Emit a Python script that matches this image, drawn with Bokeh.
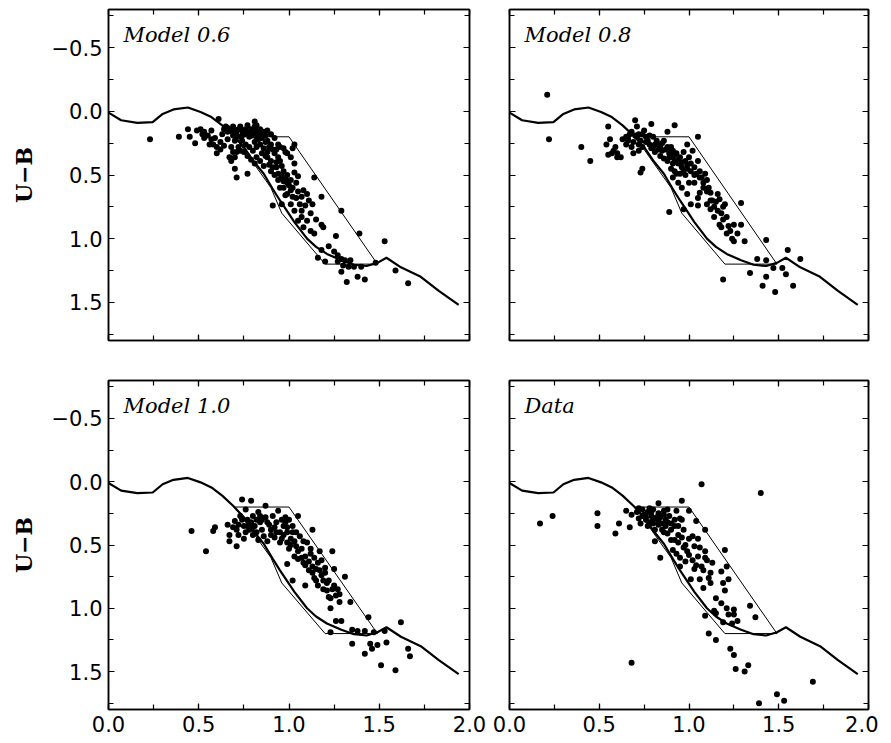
from bokeh.plotting import figure
from bokeh.models import Range1d, LinearAxis, SingleIntervalTicker, Label
from bokeh.layouts import column, row
from bokeh.embed import file_html
from bokeh.resources import INLINE

# ---------------- data ----------------
CURVE_X = [0.0, 0.07, 0.16, 0.245, 0.30, 0.36, 0.44, 0.51, 0.57, 0.63, 0.69, 0.75, 0.80, 0.86,
           0.91, 0.95, 1.03, 1.10, 1.15, 1.21, 1.29, 1.36, 1.43, 1.49, 1.54, 1.62, 1.73, 1.83, 1.94]
CURVE_Y = [0.01, 0.07, 0.09, 0.085, 0.02, -0.015, -0.03, 0.005, 0.045, 0.11, 0.19, 0.28, 0.385, 0.49,
           0.61, 0.70, 0.87, 1.0, 1.065, 1.12, 1.17, 1.205, 1.215, 1.19, 1.15, 1.225, 1.30, 1.41, 1.52]

BOX_X = [0.70, 1.00, 1.49, 1.20, 0.96, 0.90, 0.70]
BOX_Y = [0.20, 0.20, 1.20, 1.20, 0.80, 0.60, 0.20]

TITLES = ["Model 0.6", "Model 0.8", "Model 1.0", "Data"]
Y_LABEL = "U\u2212B"
X_TICKS = [0.0, 0.5, 1.0, 1.5, 2.0]
X_TICK_LABELS = ["0.0", "0.5", "1.0", "1.5", "2.0"]
Y_TICKS = [-0.5, 0.0, 0.5, 1.0, 1.5]
Y_TICK_LABELS = ["\u22120.5", "0.0", "0.5", "1.0", "1.5"]

M06_PTS = [(0.23,0.22),(0.39,0.20),(0.44,0.14),(0.45,0.20),(0.48,0.25),(0.49,0.15),(0.51,0.14),(0.52,0.18),
 (0.53,0.16),(0.53,0.21),(0.55,0.19),(0.56,0.26),(0.57,0.22),(0.58,0.26),(0.60,0.28),(0.61,0.06),(0.62,0.24),
 (0.60,0.33),(0.63,0.18),(0.64,0.14),(0.65,0.12),(0.66,0.16),(0.68,0.15),(0.69,0.14),(0.69,0.12),(0.69,0.19),
 (0.70,0.23),(0.71,0.16),(0.72,0.20),(0.73,0.12),(0.74,0.15),(0.75,0.18),(0.76,0.14),(0.77,0.11),(0.78,0.16),
 (0.79,0.14),(0.80,0.19),(0.81,0.12),(0.82,0.16),(0.82,0.20),(0.83,0.15),(0.84,0.18),(0.86,0.16),(0.87,0.19),
 (0.88,0.15),(0.90,0.18),(0.92,0.21),(0.74,0.23),(0.76,0.26),(0.78,0.28),(0.80,0.31),(0.81,0.24),(0.82,0.28),
 (0.84,0.26),(0.86,0.29),(0.88,0.32),(0.77,0.35),(0.79,0.38),(0.81,0.41),(0.82,0.36),(0.84,0.39),(0.86,0.43),
 (0.88,0.36),(0.90,0.39),(0.92,0.33),(0.94,0.36),(0.95,0.39),(0.96,0.43),(0.98,0.32),(1.01,0.36),(1.03,0.41),
 (0.93,0.44),(0.94,0.49),(0.97,0.47),(0.99,0.50),(1.01,0.54),(1.03,0.48),(1.04,0.56),(1.01,0.62),(0.99,0.65),
 (1.02,0.67),(1.05,0.63),(1.07,0.67),(1.06,0.73),(1.07,0.78),(1.09,0.74),(1.11,0.70),(1.13,0.73),(1.14,0.52),
 (1.18,0.67),(0.97,0.60),(0.99,0.56),(0.95,0.60),(0.94,0.54),(0.92,0.50),(0.90,0.47),(0.91,0.74),(0.96,0.73),
 (0.98,0.66),(1.01,0.73),(1.03,0.78),(1.05,0.86),(1.07,0.83),(1.08,0.91),(1.10,0.86),(1.12,0.94),(1.14,0.96),
 (1.18,0.89),(1.19,0.91),(1.26,0.98),(1.29,0.78),(1.39,0.96),(1.18,1.09),(1.16,1.15),(1.27,1.13),(1.29,1.16),
 (1.30,1.21),(1.31,1.17),(1.34,1.17),(1.33,1.22),(1.29,1.26),(1.32,1.34),(1.36,1.22),(1.40,1.22),(1.42,1.32),
 (1.48,1.19),(1.53,1.02),(1.59,1.25),(1.66,1.35),(0.70,0.45),(0.71,0.52),(0.77,0.49),(0.67,0.36),(0.68,0.39),
 (0.70,0.36),(0.71,0.32),(0.81,0.08),(0.82,0.11),(0.84,0.14),(0.88,0.23),(0.90,0.26),(0.94,0.26),(0.95,0.28),
 (0.97,0.29),(0.99,0.33),(1.02,0.29),(1.03,0.26),(0.68,0.28),(0.69,0.32),(0.72,0.28),(0.73,0.31),(0.75,0.32),
 (0.66,0.13),(0.70,0.17),(0.72,0.14),(0.74,0.19),(0.76,0.17),(0.78,0.20),(0.80,0.16),(0.83,0.22),(0.85,0.21),
 (0.87,0.24),(0.89,0.28),(0.91,0.30),(0.93,0.30),(0.85,0.33),(0.87,0.35),(0.89,0.42),(0.91,0.44),(0.93,0.40),
 (0.96,0.51),(0.98,0.53),(1.00,0.58),(1.02,0.60),(1.04,0.68),(0.97,0.55),(1.05,0.51),(1.08,0.62),(1.10,0.65),
 (1.12,0.80),(1.15,0.85),(0.62,0.30),(0.64,0.27),(0.66,0.22),(0.59,0.21),(0.57,0.15),(1.22,1.06),(1.25,1.10),
 (1.27,1.18),(1.20,1.18),(1.38,1.30)]

M08_PTS = [(0.21,-0.13),(0.22,0.22),(0.40,0.28),(0.45,0.39),(0.55,0.12),(0.54,0.26),(0.56,0.22),(0.55,0.34),
 (0.57,0.33),(0.59,0.28),(0.60,0.33),(0.62,0.36),(0.63,0.22),(0.65,0.26),(0.65,0.20),(0.66,0.23),(0.67,0.18),
 (0.68,0.28),(0.69,0.33),(0.70,0.07),(0.71,0.12),(0.71,0.20),(0.72,0.26),(0.73,0.23),(0.74,0.28),(0.73,0.48),
 (0.74,0.45),(0.75,0.15),(0.76,0.20),(0.78,0.26),(0.79,0.10),(0.80,0.20),(0.80,0.28),(0.82,0.23),(0.83,0.26),
 (0.84,0.28),(0.85,0.31),(0.86,0.23),(0.88,0.16),(0.88,0.28),(0.89,0.33),(0.90,0.31),(0.91,0.36),(0.91,0.31),
 (0.92,0.11),(0.92,0.39),(0.93,0.33),(0.94,0.41),(0.95,0.36),(0.96,0.44),(0.97,0.32),(0.98,0.39),(0.99,0.26),
 (0.99,0.45),(1.00,0.36),(1.01,0.41),(1.02,0.31),(1.03,0.44),(1.04,0.49),(1.05,0.20),(1.05,0.39),(1.06,0.47),
 (1.07,0.52),(1.08,0.56),(1.09,0.49),(1.10,0.54),(1.11,0.60),(1.12,0.64),(1.13,0.70),(1.14,0.75),(1.15,0.71),
 (1.16,0.65),(1.17,0.69),(1.17,0.89),(1.18,0.91),(1.18,0.80),(1.19,0.75),(1.20,0.73),(1.21,0.96),(1.21,0.83),
 (1.23,0.94),(1.24,1.00),(1.25,0.89),(1.25,1.02),(1.27,0.96),(1.29,0.89),(1.29,0.72),(1.31,1.02),(1.06,0.64),
 (1.05,0.68),(1.03,0.56),(1.01,0.73),(0.99,0.65),(1.00,0.56),(0.96,0.60),(0.94,0.56),(0.93,0.49),(0.91,0.52),
 (0.90,0.45),(0.89,0.79),(0.97,0.77),(1.05,0.74),(1.10,0.73),(1.12,0.77),(1.14,0.83),(1.43,1.01),(1.38,1.16),
 (1.34,1.27),(1.43,1.30),(1.41,1.37),(1.48,1.42),(1.47,1.23),(1.52,1.23),(1.55,1.09),(1.54,1.28),(1.58,1.37),
 (1.62,1.16),(1.19,1.32),(1.43,1.17),(0.68,0.16),(0.70,0.19),(0.72,0.18),(0.77,0.23),(0.79,0.29),(0.81,0.32),
 (0.84,0.35),(0.86,0.37),(0.88,0.39),(0.91,0.41),(0.92,0.47),(0.95,0.49),(0.98,0.50),
 (0.74,0.18),(0.76,0.24),(0.78,0.19),(0.81,0.26),(0.83,0.30),(0.85,0.25),(0.87,0.30),(0.89,0.36),(0.90,0.28),
 (0.92,0.34),(0.94,0.38),(0.96,0.40),(0.97,0.46),(0.99,0.42),(1.01,0.47),(1.03,0.50),(1.06,0.52),(1.08,0.60),
 (1.10,0.63),(1.12,0.70),(1.16,0.78),(1.19,0.85),(1.22,0.90),(0.66,0.21),(0.69,0.24),(0.72,0.31),(0.60,0.36),
 (0.58,0.31)]

M10_PTS = [(0.46,0.39),(0.54,0.55),(0.58,0.39),(0.59,0.36),(0.66,0.34),(0.67,0.42),(0.67,0.47),(0.69,0.36),
 (0.70,0.31),(0.71,0.38),(0.71,0.51),(0.72,0.34),(0.73,0.27),(0.74,0.14),(0.75,0.45),(0.75,0.35),(0.76,0.22),
 (0.77,0.30),(0.78,0.38),(0.79,0.15),(0.79,0.32),(0.80,0.27),(0.81,0.35),(0.82,0.40),(0.83,0.24),(0.84,0.32),
 (0.85,0.38),(0.86,0.43),(0.87,0.28),(0.87,0.19),(0.89,0.34),(0.90,0.38),(0.91,0.27),(0.92,0.44),(0.93,0.32),
 (0.94,0.23),(0.95,0.40),(0.96,0.45),(0.97,0.35),(0.98,0.28),(0.99,0.48),(0.99,0.40),(1.00,0.53),(1.01,0.45),
 (1.02,0.35),(1.03,0.59),(1.04,0.51),(1.05,0.27),(1.05,0.61),(1.06,0.43),(1.07,0.53),(1.08,0.64),(1.09,0.59),
 (1.10,0.48),(1.11,0.63),(1.12,0.53),(1.13,0.38),(1.13,0.67),(1.14,0.60),(1.14,0.76),(1.15,0.69),(1.16,0.82),
 (1.17,0.55),(1.18,0.74),(1.19,0.85),(1.20,0.68),(1.21,0.80),(1.22,0.91),(1.23,1.00),(1.24,0.85),(1.24,0.55),
 (1.25,0.69),(1.26,1.10),(1.27,0.85),(1.28,0.95),(1.28,0.89),(1.29,1.10),(1.31,0.75),(1.34,0.95),(1.02,0.78),
 (1.09,0.82),(0.99,0.65),(1.35,1.17),(1.35,1.28),(1.38,1.18),(1.42,1.18),(1.42,1.36),(1.44,1.07),(1.45,1.28),
 (1.47,1.19),(1.46,1.32),(1.49,1.29),(1.51,1.45),(1.53,1.18),(1.54,1.27),(1.59,1.49),(1.62,1.11),(1.66,1.32),
 (1.67,1.38),(1.23,1.19),(0.80,0.42),(0.83,0.46),(0.88,0.47),(0.92,0.36),(0.96,0.30),(1.00,0.30),(1.04,0.40),
 (1.08,0.47),(1.12,0.57),(1.16,0.64),(1.18,0.62),(1.20,0.72),(1.22,0.78),(1.25,0.82),(0.76,0.40),(0.78,0.33),
 (0.74,0.30),(0.72,0.42),
 (0.82,0.30),(0.85,0.30),(0.88,0.32),(0.90,0.42),(0.93,0.40),(0.95,0.48),(0.97,0.42),(0.99,0.36),(1.01,0.50),
 (1.03,0.47),(1.05,0.55),(1.07,0.60),(1.09,0.66),(1.11,0.70),(1.13,0.72),(1.15,0.78),(1.17,0.70),(1.19,0.78),
 (1.21,0.86),(1.23,0.92),(1.26,0.90),(1.02,0.40),(0.98,0.32),(0.84,0.27),(0.80,0.36),(0.77,0.35)]

DATA_PTS = [(0.17,0.33),(0.24,0.27),(0.49,0.25),(0.49,0.35),(0.59,0.41),(0.61,0.33),(0.65,0.23),(0.67,0.36),
 (0.68,0.26),(0.68,1.43),(0.71,0.24),(0.72,0.29),(0.73,0.33),(0.74,0.22),(0.75,0.26),(0.76,0.30),(0.77,0.35),
 (0.78,0.21),(0.79,0.27),(0.80,0.33),(0.81,0.38),(0.81,0.47),(0.83,0.17),(0.83,0.25),(0.83,0.31),(0.84,0.60),
 (0.85,0.38),(0.86,0.23),(0.87,0.35),(0.88,0.41),(0.89,0.27),(0.90,0.46),(0.91,0.54),(0.92,0.35),(0.93,0.23),
 (0.93,0.57),(0.94,0.42),(0.95,0.29),(0.95,0.67),(0.96,0.15),(0.96,0.44),(0.97,0.38),(0.98,0.63),(0.99,0.55),
 (1.00,0.23),(1.01,0.77),(1.02,0.43),(1.03,0.51),(1.03,0.69),(1.04,0.31),(1.05,0.59),(1.06,0.77),(1.07,0.02),
 (1.07,0.67),(1.08,0.84),(1.09,0.38),(1.09,0.55),(1.09,0.60),(1.09,1.06),(1.11,1.20),(1.11,0.76),(1.12,0.72),
 (1.13,0.64),(1.14,1.02),(1.15,1.25),(1.15,1.04),(1.18,0.71),(1.19,1.11),(1.19,0.80),(1.20,0.54),(1.20,0.86),
 (1.21,1.00),(1.21,0.67),(1.22,0.77),(1.23,1.32),(1.24,1.12),(1.25,1.37),(1.25,1.01),(1.26,1.48),(1.27,1.10),
 (1.31,1.50),(1.33,1.45),(1.34,0.98),(1.37,1.07),(1.39,1.75),(1.40,0.09),(1.49,1.68),(1.53,1.73),(1.69,1.58),
 (0.77,0.24),(0.80,0.22),(0.84,0.28),(0.87,0.30),(0.90,0.33),(0.94,0.35),(0.96,0.30),(0.80,0.30),(0.86,0.40),
 (0.92,0.46),(0.98,0.50),(1.00,0.58),(0.95,0.60),(1.05,0.45),(1.10,0.62),(0.88,0.22),(0.83,0.34),(0.76,0.28),
 (0.72,0.21),(0.74,0.27),(0.78,0.32),(0.79,0.24),(0.82,0.28),(0.85,0.33),(0.86,0.26),(0.88,0.32),(0.90,0.38),
 (0.92,0.30),(0.94,0.48),(0.97,0.52),(1.00,0.45),(1.02,0.62),(1.04,0.66),(1.06,0.52),(1.08,0.70),(1.12,0.80),
 (1.15,0.92),(1.18,0.96),(1.22,1.05),(1.25,1.05)]

PANEL_PTS = [M06_PTS, M08_PTS, M10_PTS, DATA_PTS]

# ---------------- styling ----------------
TICK_FONT = "DejaVu Sans"
TICK_SIZE = "21px"


def style_axis(ax, show_labels, overrides):
    ax.ticker = SingleIntervalTicker(interval=0.5, num_minor_ticks=2)
    ax.axis_line_color = "black"
    ax.axis_line_width = 1.5
    ax.major_tick_in = 6
    ax.major_tick_out = 0
    ax.minor_tick_in = 5
    ax.minor_tick_out = 0
    ax.major_tick_line_color = "black"
    ax.minor_tick_line_color = "black"
    ax.major_tick_line_width = 1.2
    ax.minor_tick_line_width = 1.2
    if show_labels:
        ax.major_label_overrides = overrides
        ax.major_label_text_font = TICK_FONT
        ax.major_label_text_font_size = TICK_SIZE
        ax.major_label_text_color = "black"
        ax.major_label_standoff = 6
    else:
        ax.major_label_text_font_size = "1px"
        ax.major_label_text_color = None
        ax.major_label_standoff = 0


def make_panel(idx, left_labels, bottom_labels, fw, fh, mb):
    p = figure(frame_width=fw, frame_height=fh,
               x_range=Range1d(0.0, 2.0), y_range=Range1d(1.8, -0.8),
               output_backend="svg", toolbar_location=None,
               min_border_left=mb[0], min_border_right=mb[1],
               min_border_top=mb[2], min_border_bottom=mb[3])
    p.grid.visible = False
    p.outline_line_color = "black"
    p.outline_line_width = 1.5
    p.background_fill_color = "white"
    p.border_fill_color = "white"

    xov = {t: s for t, s in zip(X_TICKS, X_TICK_LABELS)}
    yov = {t: s for t, s in zip(Y_TICKS, Y_TICK_LABELS)}

    style_axis(p.xaxis[0], bottom_labels, xov)
    style_axis(p.yaxis[0], left_labels, yov)
    if left_labels:
        p.yaxis[0].axis_label = Y_LABEL
        p.yaxis[0].axis_label_text_font = "DejaVu Serif"
        p.yaxis[0].axis_label_text_font_style = "bold"
        p.yaxis[0].axis_label_text_font_size = "22px"
        p.yaxis[0].axis_label_text_color = "black"
        p.yaxis[0].axis_label_standoff = 12

    top = LinearAxis()
    style_axis(top, False, {})
    p.add_layout(top, "above")
    right = LinearAxis()
    style_axis(right, False, {})
    p.add_layout(right, "right")

    p.line(CURVE_X, CURVE_Y, line_color="black", line_width=2.2)
    p.line(BOX_X, BOX_Y, line_color="black", line_width=1.0)

    pts = PANEL_PTS[idx]
    xs = [q[0] for q in pts]
    ys = [q[1] for q in pts]
    p.scatter(xs, ys, size=6, color="black", line_color=None)

    p.add_layout(Label(x=15, y=fh - 25, x_units="screen", y_units="screen",
                       text=TITLES[idx], text_font="DejaVu Serif", text_font_style="italic",
                       text_font_size="21px", text_color="black", text_baseline="middle"))
    return p


tl = make_panel(0, True, False, 361, 331, (108, 20, 9, 20))
tr = make_panel(1, False, False, 359, 331, (20, 10, 9, 20))
bl = make_panel(2, True, True, 361, 329, (108, 20, 20, 31))
br = make_panel(3, False, True, 359, 329, (20, 10, 20, 31))

layout = column(row(tl, tr), row(bl, br))

open("out.html", "w").write(file_html(layout, INLINE))
